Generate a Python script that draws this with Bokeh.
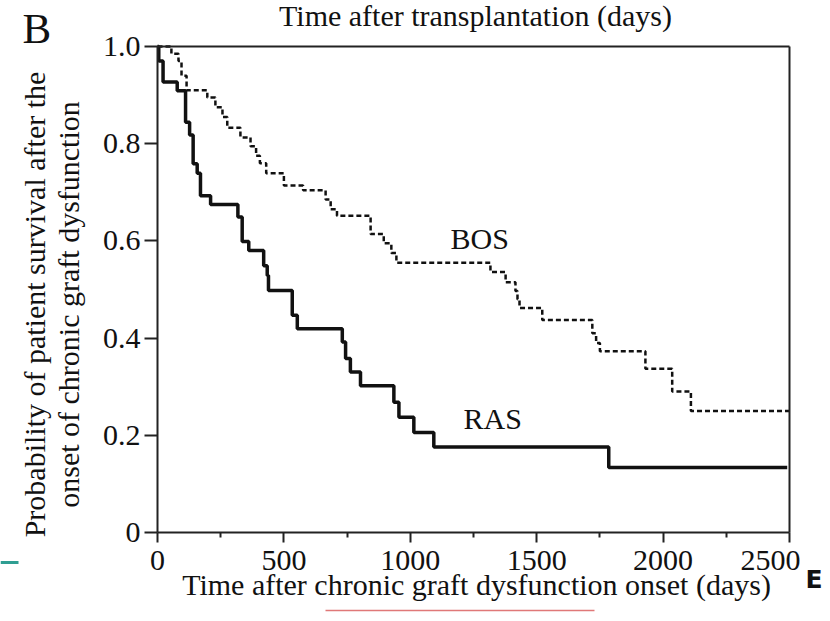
import math
from bokeh.plotting import figure
from bokeh.models import FixedTicker, Label, Range1d, LinearAxis
from bokeh.embed import file_html
from bokeh.resources import INLINE

# ---- data ----
ras_days = [0, 5, 22, 78, 111, 127, 141, 157, 170, 210, 318, 335, 361, 420, 434, 439,
            533, 553, 731, 744, 763, 803, 935, 955, 1014, 1093, 1785, 2491]
ras_surv = [1.0, 0.97, 0.927, 0.909, 0.844, 0.818, 0.759, 0.739, 0.693, 0.675, 0.649, 0.599,
            0.580, 0.549, 0.529, 0.498, 0.447, 0.419, 0.392, 0.358, 0.330, 0.302, 0.268,
            0.237, 0.206, 0.176, 0.134, 0.134]

bos_days = [0, 55, 83, 95, 115, 197, 229, 257, 276, 328, 368, 390, 405, 430, 500, 576,
            665, 685, 710, 843, 895, 925, 945, 1317, 1377, 1416, 1424, 1432, 1522, 1720,
            1735, 1750, 1930, 2036, 2110, 2500]
bos_surv = [1.0, 0.985, 0.97, 0.94, 0.91, 0.895, 0.875, 0.855, 0.833, 0.813, 0.795, 0.775,
            0.76, 0.739, 0.714, 0.704, 0.685, 0.665, 0.652, 0.614, 0.595, 0.575, 0.555,
            0.536, 0.515, 0.497, 0.48, 0.462, 0.437, 0.41, 0.39, 0.373, 0.337, 0.29, 0.25, 0.25]

x_ticks = [0, 500, 1000, 1500, 2000, 2500]
x_tick_labels = ["0", "500", "1000", "1500", "2000", "2500"]
x_minor_ticks = [250, 750, 1250, 1750, 2250]
y_ticks = [0, 0.2, 0.4, 0.6, 0.8, 1.0]
y_tick_labels = ["0", "0.2", "0.4", "0.6", "0.8", "1.0"]
x_bounds = (0, 2500)
y_bounds = (0, 1)

panel_letter = "B"
top_title = "Time after transplantation (days)"
x_title = "Time after chronic graft dysfunction onset (days)"
y_title_lines = ["Probability of patient survival after the",
                 "onset of chronic graft dysfunction"]
series_names = ["BOS", "RAS"]

SERIF = "Liberation Serif"
INK = "#111111"
AXIS = "#222222"

W, H = 830, 621
# plot box edges on the canvas (pixels)
LEFT, RIGHT, TOP, BOTTOM = 157, 789, 46, 532
xs = (RIGHT - LEFT) / (x_bounds[1] - x_bounds[0])
ys = (BOTTOM - TOP) / (y_bounds[1] - y_bounds[0])
x_range = Range1d(x_bounds[0] - LEFT / xs, x_bounds[1] + (W - RIGHT) / xs)
y_range = Range1d(y_bounds[0] - (H - BOTTOM) / ys, y_bounds[1] + TOP / ys)

def dx(px):
    return x_bounds[0] + (px - LEFT) / xs

def dy(py):
    return y_bounds[0] + (BOTTOM - py) / ys

p = figure(width=W, height=H, output_backend="svg", toolbar_location=None,
           x_range=x_range, y_range=y_range, min_border=0)
p.grid.visible = False
p.background_fill_color = "white"
p.border_fill_color = "white"
p.outline_line_color = None

# axes drawn at the data origin, limited to the data box
p.xaxis.ticker = FixedTicker(ticks=x_ticks, minor_ticks=x_minor_ticks)
p.yaxis.ticker = FixedTicker(ticks=y_ticks, minor_ticks=[])
# last x label sits nearly flush with the right edge of the box, as in the reference
x_labels_shown = x_tick_labels[:-1] + [x_tick_labels[-1] + "\u00a0" * 4]
p.xaxis.major_label_overrides = {t: l for t, l in zip(x_ticks, x_labels_shown)}
p.yaxis.major_label_overrides = {t: l for t, l in zip(y_ticks, y_tick_labels)}
p.xaxis.fixed_location = y_bounds[0]
p.yaxis.fixed_location = x_bounds[0]
p.xaxis.bounds = x_bounds
p.yaxis.bounds = y_bounds
for ax in (p.xaxis, p.yaxis):
    ax.axis_line_width = 2
    ax.axis_line_color = AXIS
    ax.major_tick_line_width = 2
    ax.major_tick_line_color = AXIS
    ax.minor_tick_line_width = 2
    ax.minor_tick_line_color = AXIS
    ax.major_tick_in = 0
    ax.minor_tick_in = 0
    ax.major_label_text_font = SERIF
    ax.major_label_text_font_size = "30px"
    ax.major_label_text_color = INK
p.xaxis.major_tick_out = 10
p.xaxis.minor_tick_out = 5
p.xaxis.major_label_standoff = 0
p.yaxis.major_tick_out = 13
p.yaxis.major_label_standoff = 4

# top and right sides of the box
def frame_axis(loc, bounds):
    return LinearAxis(fixed_location=loc, bounds=bounds,
                      ticker=FixedTicker(ticks=[], minor_ticks=[]),
                      axis_line_width=2, axis_line_color=AXIS,
                      major_tick_line_color=None, minor_tick_line_color=None,
                      major_label_text_font_size="0px")

p.add_layout(frame_axis(y_bounds[1], x_bounds), "above")
p.add_layout(frame_axis(x_bounds[1], y_bounds), "right")

# curves
p.step(bos_days, bos_surv, mode="after", line_color=INK, line_width=2.5, line_dash="5 3")
p.step(ras_days, ras_surv, mode="after", line_color=INK, line_width=3.5)

def add_label(px, py, text, size=30, **kw):
    if kw.get("text_baseline") == "alphabetic":
        py = py - size / 3.0   # the SVG baseline lands about a third of the size lower
    lab = Label(x=dx(px), y=dy(py), text=text, text_font=kw.pop("font", SERIF),
                text_font_size=f"{size}px", text_color=kw.pop("color", INK), **kw)
    p.add_layout(lab)

add_label(450, 248, series_names[0], text_baseline="alphabetic")
add_label(463, 428, series_names[1], text_baseline="alphabetic")

add_label(476, 594, x_title, text_align="center", text_baseline="alphabetic")
add_label(475, 25, top_title, text_align="center", text_baseline="alphabetic")
add_label(22, 42, panel_letter, size=43, text_baseline="alphabetic")
add_label(34, 304, y_title_lines[0], angle=math.pi / 2,
          text_align="center", text_baseline="middle")
add_label(68, 304, y_title_lines[1], angle=math.pi / 2,
          text_align="center", text_baseline="middle")

# slide-background fragments visible in the reference
add_label(805, 587, "E", size=25, font="DejaVu Sans", text_font_style="bold",
          text_baseline="alphabetic")
p.line([dx(0), dx(18)], [dy(562), dy(562)], line_color="#2f9e92", line_width=3)
p.line([dx(325), dx(594)], [dy(610), dy(610)], line_color="#e07878", line_width=1.5)

open("out.html", "w").write(file_html(p, INLINE))
